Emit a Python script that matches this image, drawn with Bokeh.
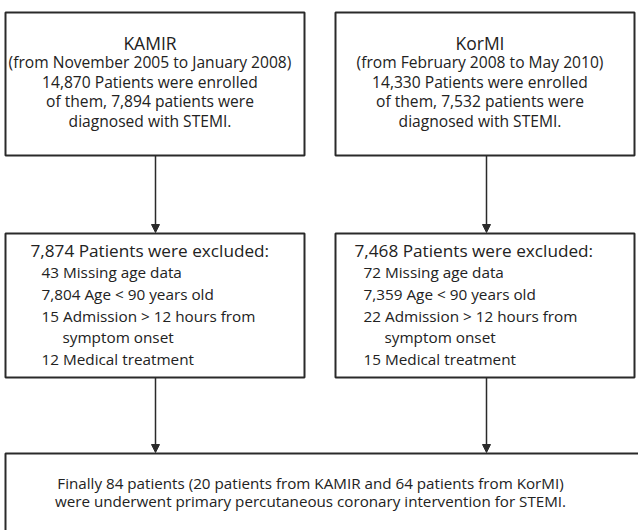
from bokeh.plotting import figure
from bokeh.models import Range1d, Arrow, NormalHead
from bokeh.core.properties import value
from bokeh.embed import file_html
from bokeh.resources import INLINE

# ---- content ----
registry_names = ["KAMIR", "KorMI"]
registry_periods = ["(from November 2005 to January 2008)", "(from February 2008 to May 2010)"]
enrolled = ["14,870", "14,330"]
stemi = ["7,894", "7,532"]
excluded_total = ["7,874", "7,468"]
missing_age = ["43", "72"]
age_lt_90 = ["7,804", "7,359"]
late_admission = ["15", "22"]
medical_tx = ["12", "15"]
final_lines = [
    "Finally 84 patients (20 patients from KAMIR and 64 patients from KorMI)",
    "were underwent primary percutaneous coronary intervention for STEMI.",
]

# ---- layout (pixel-like coordinates) ----
FONT = value("Open Sans")
LINE = "#2a2a2a"
TXT = "#222222"
top_boxes = [(5, 304, 12, 155), (335, 634, 12, 155)]
mid_boxes = [(5, 304, 233, 377), (335, 634, 233, 377)]
bottom_box = (5, 680, 453, 600)
arrow_x = [155, 486]
head_x = [30, 354]
item_x = [41, 363]
indent = 21

p = figure(width=638, height=530, output_backend="svg", toolbar_location=None,
           x_range=Range1d(0, 638), y_range=Range1d(530, 0),
           min_border=0, outline_line_color=None, background_fill_color="white")
p.axis.visible = False
p.grid.visible = False

all_boxes = top_boxes + mid_boxes + [bottom_box]
p.quad(left=[b[0] for b in all_boxes], right=[b[1] for b in all_boxes],
       top=[b[2] for b in all_boxes], bottom=[b[3] for b in all_boxes],
       fill_color="white", line_color=LINE, line_width=2)

# arrows
for i, ax in enumerate(arrow_x):
    p.add_layout(Arrow(end=NormalHead(size=8, fill_color=LINE, line_color=LINE),
                       x_start=ax, y_start=top_boxes[i][3], x_end=ax, y_end=mid_boxes[i][2] - 1,
                       line_color=LINE, line_width=1.5))
    p.add_layout(Arrow(end=NormalHead(size=8, fill_color=LINE, line_color=LINE),
                       x_start=ax, y_start=mid_boxes[i][3], x_end=ax, y_end=bottom_box[2] - 1,
                       line_color=LINE, line_width=1.5))

# top box texts
tx, ty, tt = [], [], []
nx, ny, nt = [], [], []
for i in range(2):
    cx = (top_boxes[i][0] + top_boxes[i][1]) / 2 - 5
    nx.append(cx); ny.append(42); nt.append(registry_names[i])
    lines = [registry_periods[i],
             f"{enrolled[i]} Patients were enrolled",
             f"of them, {stemi[i]} patients were",
             "diagnosed with STEMI."]
    for k, t in enumerate(lines):
        tx.append(cx); ty.append(61.5 + 19.7 * k); tt.append(t)
p.text(x=nx, y=ny, text=nt, text_align="center", text_baseline="middle",
       text_font=FONT, text_font_size="17.5px", text_color=TXT)
p.text(x=tx, y=ty, text=tt, text_align="center", text_baseline="middle",
       text_font=FONT, text_font_size="15.6px", text_color=TXT)

# middle box texts
hx, hy, ht = [], [], []
ix, iy, it = [], [], []
for i in range(2):
    hx.append(head_x[i]); hy.append(250); ht.append(f"{excluded_total[i]} Patients were excluded:")
    items = [(0, f"{missing_age[i]} Missing age data"),
             (0, f"{age_lt_90[i]} Age < 90 years old"),
             (0, f"{late_admission[i]} Admission > 12 hours from"),
             (indent, "symptom onset"),
             (0, f"{medical_tx[i]} Medical treatment")]
    for k, (dx, t) in enumerate(items):
        ix.append(item_x[i] + dx); iy.append(271.5 + 21.8 * k); it.append(t)
p.text(x=hx, y=hy, text=ht, text_align="left", text_baseline="middle",
       text_font=FONT, text_font_size="17.2px", text_color=TXT)
p.text(x=ix, y=iy, text=it, text_align="left", text_baseline="middle",
       text_font=FONT, text_font_size="15.3px", text_color=TXT)

# bottom text
p.text(x=[310, 310], y=[482, 500], text=final_lines, text_align="center", text_baseline="middle",
       text_font=FONT, text_font_size="15.2px", text_color=TXT)

open("out.html", "w").write(file_html(p, INLINE))
